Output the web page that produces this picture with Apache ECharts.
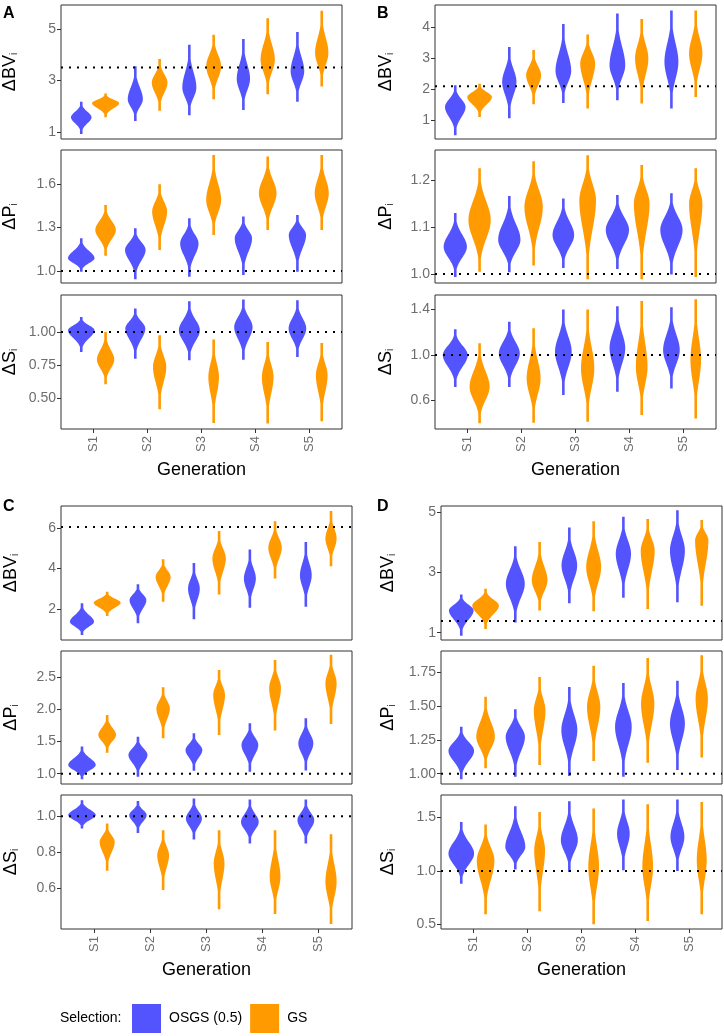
<!DOCTYPE html>
<html>
<head>
<meta charset="utf-8">
<script src="https://cdn.jsdelivr.net/npm/echarts@6/dist/echarts.min.js"></script>
<style>
  html, body { margin: 0; padding: 0; background: #fff; }
</style>
</head>
<body>
<div id="main" style="width: 724px;height:1036px;"></div>
<script type="text/javascript">
    // generations on the x axis
    var GEN = ['S1', 'S2', 'S3', 'S4', 'S5'];

    // each violin: [min, mode, max, half width (in generation units)]
    var A_BV_osgs = [[0.92,1.57,2.17,0.19],[1.43,2.27,3.55,0.14],[1.65,2.72,4.38,0.13],[1.85,3.06,4.60,0.123],[2.17,3.36,4.87,0.126]];
    var A_BV_gs   = [[1.57,2.12,2.49,0.25],[1.82,2.91,3.83,0.145],[2.27,3.55,4.77,0.138],[2.46,3.81,5.41,0.132],[2.76,4.07,5.70,0.123]];
    var A_P_osgs  = [[0.995,1.088,1.225,0.245],[0.943,1.145,1.294,0.19],[0.96,1.19,1.363,0.17],[0.972,1.225,1.375,0.16],[0.995,1.248,1.386,0.16]];
    var A_P_gs    = [[1.105,1.283,1.455,0.19],[1.145,1.41,1.598,0.138],[1.248,1.49,1.80,0.138],[1.283,1.536,1.79,0.163],[1.283,1.536,1.80,0.13]];
    var A_S_osgs  = [[0.848,1.013,1.114,0.245],[0.798,1.026,1.177,0.185],[0.786,1.013,1.233,0.194],[0.79,1.038,1.245,0.17],[0.81,1.026,1.24,0.163]];
    var A_S_gs    = [[0.604,0.79,1.0,0.16],[0.414,0.735,0.975,0.123],[0.31,0.659,0.942,0.098],[0.306,0.659,0.924,0.108],[0.323,0.672,0.917,0.108]];

    var B_BV_osgs = [[0.52,1.43,2.13,0.19],[1.07,2.24,3.36,0.132],[1.56,2.59,4.10,0.145],[1.65,2.77,4.44,0.145],[1.38,2.88,4.53,0.129]];
    var B_BV_gs   = [[1.11,1.75,2.18,0.228],[1.52,2.45,3.26,0.138],[1.38,2.83,3.76,0.138],[1.54,2.99,4.26,0.123],[1.75,3.15,4.53,0.123]];
    var B_P_osgs  = [[0.994,1.058,1.13,0.215],[1.004,1.073,1.166,0.206],[1.013,1.083,1.161,0.2],[1.011,1.094,1.168,0.215],[0.999,1.094,1.172,0.206]];
    var B_P_gs    = [[1.005,1.115,1.225,0.206],[1.018,1.143,1.24,0.17],[0.989,1.157,1.253,0.154],[0.989,1.15,1.232,0.145],[0.994,1.15,1.225,0.123]];
    var B_S_osgs  = [[0.72,1.0,1.226,0.23],[0.72,1.015,1.293,0.194],[0.648,1.03,1.40,0.154],[0.678,1.06,1.43,0.145],[0.707,1.044,1.42,0.154]];
    var B_S_gs    = [[0.40,0.72,1.103,0.185],[0.405,0.795,1.235,0.129],[0.414,0.883,1.40,0.123],[0.473,0.897,1.475,0.108],[0.443,0.956,1.49,0.098]];

    var C_BV_osgs = [[0.70,1.36,2.27,0.215],[1.28,2.43,3.22,0.15],[1.48,3.0,4.27,0.105],[2.05,3.50,4.93,0.107],[2.10,3.66,5.31,0.105]];
    var C_BV_gs   = [[1.64,2.30,2.84,0.24],[2.35,3.58,4.45,0.134],[2.71,4.49,5.85,0.12],[3.50,5.03,6.33,0.12],[4.11,5.48,6.84,0.1]];
    var C_P_osgs  = [[0.913,1.135,1.42,0.245],[0.953,1.29,1.57,0.17],[1.046,1.367,1.625,0.15],[1.03,1.444,1.78,0.15],[1.05,1.47,1.86,0.134]];
    var C_P_gs    = [[1.325,1.60,1.91,0.158],[1.55,2.01,2.34,0.12],[1.60,2.22,2.605,0.105],[1.67,2.33,2.76,0.105],[1.77,2.40,2.84,0.1]];
    var C_S_osgs  = [[0.932,1.006,1.089,0.245],[0.907,1.006,1.085,0.155],[0.87,0.987,1.098,0.143],[0.848,0.968,1.093,0.158],[0.848,0.978,1.093,0.15]];
    var C_S_gs    = [[0.696,0.857,0.959,0.134],[0.589,0.783,0.922,0.105],[0.482,0.737,0.922,0.096],[0.456,0.663,0.922,0.096],[0.40,0.635,0.90,0.1]];

    var D_BV_osgs = [[0.90,1.74,2.27,0.228],[1.34,2.63,3.88,0.175],[1.98,3.24,4.50,0.145],[2.16,3.63,4.86,0.141],[2.01,3.74,5.08,0.138]];
    var D_BV_gs   = [[1.12,1.90,2.46,0.246],[1.74,2.74,4.02,0.145],[1.71,3.18,4.71,0.138],[1.79,3.74,4.79,0.129],[1.90,4.08,4.75,0.123]];
    var D_P_osgs  = [[0.959,1.17,1.348,0.237],[0.978,1.274,1.478,0.178],[0.983,1.323,1.643,0.148],[0.978,1.348,1.673,0.154],[1.027,1.373,1.69,0.138]];
    var D_P_gs    = [[1.04,1.274,1.57,0.172],[1.064,1.47,1.717,0.108],[1.094,1.495,1.80,0.123],[1.081,1.52,1.858,0.123],[1.121,1.557,1.878,0.114]];
    var D_S_osgs  = [[0.88,1.163,1.46,0.237],[1.013,1.225,1.606,0.185],[0.99,1.288,1.653,0.157],[1.007,1.35,1.67,0.117],[1.0,1.32,1.67,0.129]];
    var D_S_gs    = [[0.594,1.10,1.435,0.163],[0.622,1.194,1.553,0.1],[0.50,1.04,1.585,0.099],[0.531,1.04,1.625,0.099],[0.594,1.10,1.647,0.092]];

    // dotted reference lines (BV, P, S) per panel
    var A_ref = [3.5, 1.0, 1.0];
    var B_ref = [2.1, 1.0, 1.0];
    var C_ref = [6.05, 1.0, 1.0];
    var D_ref = [1.39, 1.0, 1.0];

    // y tick labels
    var A_BV_ticks = ['1', '3', '5'];
    var A_P_ticks  = ['1.0', '1.3', '1.6'];
    var A_S_ticks  = ['0.50', '0.75', '1.00'];
    var B_BV_ticks = ['1', '2', '3', '4'];
    var B_P_ticks  = ['1.0', '1.1', '1.2'];
    var B_S_ticks  = ['0.6', '1.0', '1.4'];
    var C_BV_ticks = ['2', '4', '6'];
    var C_P_ticks  = ['1.0', '1.5', '2.0', '2.5'];
    var C_S_ticks  = ['0.6', '0.8', '1.0'];
    var D_BV_ticks = ['1', '3', '5'];
    var D_P_ticks  = ['1.00', '1.25', '1.50', '1.75'];
    var D_S_ticks  = ['0.5', '1.0', '1.5'];

    var BLUE = '#5454FF', ORANGE = '#FF9A00';
    var LABEL_GREY = '#6e6e6e';
    var FONT = 'Liberation Sans, Arial, sans-serif';

    // layout of the twelve facets
    var rowsAB = [[5, 134], [150, 133], [295, 134]];
    var rowsCD = [[506, 134], [651, 133], [795, 134]];
    var panels = [
        {tag: 'A', left: 61, width: 281, rows: rowsAB, gap: 42,
         ranges: [[0.73, 5.92], [0.917, 1.834], [0.265, 1.28]],
         ticks: [A_BV_ticks, A_P_ticks, A_S_ticks], ref: A_ref,
         data: [[A_BV_osgs, A_BV_gs], [A_P_osgs, A_P_gs], [A_S_osgs, A_S_gs]]},
        {tag: 'B', left: 435, width: 281, rows: rowsAB, gap: 40,
         ranges: [[0.40, 4.71], [0.981, 1.264], [0.35, 1.528]],
         ticks: [B_BV_ticks, B_P_ticks, B_S_ticks], ref: B_ref,
         data: [[B_BV_osgs, B_BV_gs], [B_P_osgs, B_P_gs], [B_S_osgs, B_S_gs]]},
        {tag: 'C', left: 61, width: 291, rows: rowsCD, gap: 41,
         ranges: [[0.455, 7.09], [0.84, 2.90], [0.372, 1.118]],
         ticks: [C_BV_ticks, C_P_ticks, C_S_ticks], ref: C_ref,
         data: [[C_BV_osgs, C_BV_gs], [C_P_osgs, C_P_gs], [C_S_osgs, C_S_gs]]},
        {tag: 'D', left: 441, width: 281, rows: rowsCD, gap: 44,
         ranges: [[0.756, 5.22], [0.924, 1.91], [0.456, 1.712]],
         ticks: [D_BV_ticks, D_P_ticks, D_S_ticks], ref: D_ref,
         data: [[D_BV_osgs, D_BV_gs], [D_P_osgs, D_P_gs], [D_S_osgs, D_S_gs]]}
    ];
    var yNames = ['{b|ΔBV}{s|i}', '{b|ΔP}{s|i}', '{b|ΔS}{s|i}'];

    // violin outline drawn from min / mode / max / width
    var K = 2.8;
    function violinItem(params, api) {
        var x = api.value(0), lo = api.value(1), pk = api.value(2), hi = api.value(3), w = api.value(4);
        var halfPx = api.size([w, 0])[0];
        var n = 60, left = [], right = [];
        for (var i = 0; i <= n; i++) {
            var y = lo + (hi - lo) * i / n;
            var t;
            if (y < pk) t = (pk - y) / Math.max(pk - lo, 1e-9);
            else t = (y - pk) / Math.max(hi - pk, 1e-9);
            var h = Math.max(1.3, halfPx * Math.exp(-0.5 * Math.pow(K * t, 2)));
            var c = api.coord([x, y]);
            left.push([c[0] - h, c[1]]);
            right.push([c[0] + h, c[1]]);
        }
        return {
            type: 'polygon',
            shape: {points: left.concat(right.reverse())},
            style: {fill: api.visual('color')}
        };
    }

    function tickFormatter(list) {
        return function (v) {
            for (var i = 0; i < list.length; i++) {
                if (Math.abs(parseFloat(list[i]) - v) < 1e-9) return list[i];
            }
            return '';
        };
    }

    var grids = [], xAxes = [], yAxes = [], series = [], graphics = [];
    var idx = 0;
    panels.forEach(function (p) {
        graphics.push({
            type: 'text', left: p.left < 100 ? 3 : 377, top: p.rows[0][0] + (p.tag === 'A' || p.tag === 'B' ? 1 : -7),
            style: {text: p.tag, font: 'bold 16px ' + FONT, fill: '#000'}
        });
        for (var r = 0; r < 3; r++) {
            var bottom = (r === 2);
            grids.push({
                left: p.left, top: p.rows[r][0], width: p.width, height: p.rows[r][1],
                show: true, borderColor: '#333', borderWidth: 1, backgroundColor: '#fff'
            });
            xAxes.push({
                gridIndex: idx, type: 'value', min: 0.4, max: 5.6,
                axisLine: {show: false},
                splitLine: {show: false},
                axisTick: {show: bottom, length: 4, lineStyle: {color: '#333'}, customValues: [1, 2, 3, 4, 5]},
                axisLabel: {
                    show: bottom, rotate: 90, color: LABEL_GREY, fontSize: 13, fontFamily: FONT, margin: 7,
                    customValues: [1, 2, 3, 4, 5],
                    formatter: function (v) { return GEN[Math.round(v) - 1]; }
                },
                name: bottom ? 'Generation' : '', nameLocation: 'middle', nameGap: 32,
                nameTextStyle: {fontSize: 18, color: '#000', fontFamily: FONT}
            });
            var tvals = p.ticks[r].map(function (s) { return parseFloat(s); });
            yAxes.push({
                gridIndex: idx, type: 'value', min: p.ranges[r][0], max: p.ranges[r][1],
                axisLine: {show: false},
                splitLine: {show: false},
                axisTick: {show: true, length: 4, lineStyle: {color: '#333'}, customValues: tvals},
                axisLabel: {
                    color: LABEL_GREY, fontSize: 14, fontFamily: FONT, margin: 5,
                    customValues: tvals, formatter: tickFormatter(p.ticks[r])
                },
                name: yNames[r], nameLocation: 'middle', nameRotate: 90, nameGap: p.gap,
                nameTextStyle: {
                    fontFamily: FONT,
                    rich: {
                        b: {fontSize: 18, color: '#000', fontFamily: FONT},
                        s: {fontSize: 10, color: '#000', fontFamily: FONT, padding: [8, 0, 0, 0]}
                    }
                }
            });
            var groups = [['OSGS (0.5)', BLUE, -0.225], ['GS', ORANGE, 0.225]];
            groups.forEach(function (g, k) {
                series.push({
                    name: g[0], type: 'custom', xAxisIndex: idx, yAxisIndex: idx,
                    itemStyle: {color: g[1]},
                    renderItem: violinItem,
                    data: p.data[r][k].map(function (v, i) {
                        return [i + 1 + g[2], v[0], v[1], v[2], v[3]];
                    }),
                    z: 2, silent: true
                });
            });
            series.push({
                type: 'line', xAxisIndex: idx, yAxisIndex: idx, symbol: 'none', silent: true,
                data: [[0.4, p.ref[r]], [5.6, p.ref[r]]],
                lineStyle: {color: '#000', width: 2, type: [2, 6]}, z: 5
            });
            idx++;
        }
    });

    graphics.push({
        type: 'text', left: 60, top: 1011,
        style: {text: 'Selection:', font: '14px ' + FONT, fill: '#000'}
    });

    var myChart = echarts.init(document.getElementById('main'));
    var option = {
        animation: false,
        textStyle: {fontFamily: FONT},
        grid: grids,
        xAxis: xAxes,
        yAxis: yAxes,
        series: series,
        graphic: graphics,
        legend: {
            data: ['OSGS (0.5)', 'GS'],
            left: 132, top: 1004, padding: 0,
            icon: 'rect', itemWidth: 29, itemHeight: 29, itemGap: 8,
            textStyle: {fontSize: 14, color: '#000', fontFamily: FONT, padding: [0, 0, 0, 3]}
        }
    };
    myChart.setOption(option);
</script>
</body>
</html>
